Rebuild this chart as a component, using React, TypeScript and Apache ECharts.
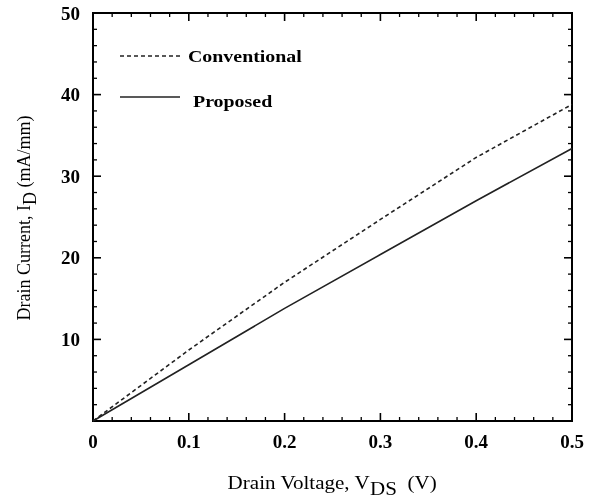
import React, { useEffect, useRef } from "react";
import * as echarts from "echarts";

const voltage = [0, 0.1, 0.2, 0.3, 0.4, 0.5];
const conventional = [0, 8.7, 17.0, 24.7, 32.3, 38.8];
const proposed = [0, 6.9, 13.8, 20.4, 27.0, 33.4];
const xTicks = [0, 0.1, 0.2, 0.3, 0.4, 0.5];
const yTicks = [10, 20, 30, 40, 50];
const legendNames = ["Conventional", "Proposed"];
const X_MAX = 0.5;
const Y_MAX = 50;
const X_MINOR = 0.02;
const Y_MINOR = 2;

const FONT = "Liberation Serif";

// tick marks: [x, y, isMajor, axis(0 = x axis, 1 = y axis)]
const tickData: number[][] = [];
for (let i = 1; i < Math.round(X_MAX / X_MINOR); i++) {
  tickData.push([+(i * X_MINOR).toFixed(3), 0, i % 5 === 0 ? 1 : 0, 0]);
}
for (let i = 1; i < Math.round(Y_MAX / Y_MINOR); i++) {
  tickData.push([0, i * Y_MINOR, i % 5 === 0 ? 1 : 0, 1]);
}

export default function App() {
  const ref = useRef<HTMLDivElement>(null);
  useEffect(() => {
    if (!ref.current) return;
    const chart = echarts.init(ref.current, undefined, { renderer: "svg" });
    const labelStyle = { fontFamily: FONT, fontWeight: "bold" as const, fontSize: 19, color: "#000" };
    chart.setOption({
      animation: false,
      grid: { left: 93, right: 31, top: 13, bottom: 78, show: true, borderColor: "#000", borderWidth: 2, backgroundColor: "transparent" },
      xAxis: {
        type: "value", min: 0, max: X_MAX, interval: 0.1,
        axisLine: { show: true, onZero: false, lineStyle: { color: "#000", width: 2 } },
        axisTick: { show: false }, splitLine: { show: false },
        axisLabel: {
          ...labelStyle, margin: 11,
          formatter: (v: number) => (xTicks.includes(Math.round(v * 10) / 10) ? (v === 0 ? "0" : v.toFixed(1)) : ""),
        },
      },
      yAxis: {
        type: "value", min: 0, max: Y_MAX, interval: 10,
        axisLine: { show: true, onZero: false, lineStyle: { color: "#000", width: 2 } },
        axisTick: { show: false }, splitLine: { show: false },
        axisLabel: {
          ...labelStyle, margin: 13,
          formatter: (v: number) => (yTicks.includes(v) ? String(v) : ""),
        },
      },
      series: [
        {
          type: "custom", silent: true, z: 5,
          encode: { x: 0, y: 1 },
          dimensions: ["x", "y", "major", "axis"],
          data: tickData,
          renderItem: (params: any, api: any) => {
            const v0 = api.value(0);
            const v1 = api.value(1);
            const major = api.value(2) === 1;
            const axis = api.value(3);
            const len = major ? 8 : 4;
            const lw = major ? 1.6 : 1.3;
            if (axis === 0) {
              const b = api.coord([v0, 0]);
              const t = api.coord([v0, Y_MAX]);
              return {
                type: "group",
                children: [
                  { type: "line", shape: { x1: b[0], y1: b[1], x2: b[0], y2: b[1] - len }, style: { stroke: "#000", lineWidth: lw } },
                  { type: "line", shape: { x1: t[0], y1: t[1], x2: t[0], y2: t[1] + len }, style: { stroke: "#000", lineWidth: lw } },
                ],
              };
            }
            const l = api.coord([0, v1]);
            const r = api.coord([X_MAX, v1]);
            return {
              type: "group",
              children: [
                { type: "line", shape: { x1: l[0], y1: l[1], x2: l[0] + len, y2: l[1] }, style: { stroke: "#000", lineWidth: lw } },
                { type: "line", shape: { x1: r[0], y1: r[1], x2: r[0] - len, y2: r[1] }, style: { stroke: "#000", lineWidth: lw } },
              ],
            };
          },
        },
        {
          name: legendNames[0], type: "line", showSymbol: false, symbol: "none",
          data: voltage.map((v, i) => [v, conventional[i]]),
          lineStyle: { color: "#222", width: 1.6, type: [4, 3] },
        },
        {
          name: legendNames[1], type: "line", showSymbol: false, symbol: "none",
          data: voltage.map((v, i) => [v, proposed[i]]),
          lineStyle: { color: "#222", width: 1.6, type: "solid" },
        },
      ],
      graphic: [
        { type: "line", shape: { x1: 120, y1: 56, x2: 180, y2: 56 }, style: { stroke: "#222", lineWidth: 1.5, lineDash: [4, 3] } },
        { type: "text", x: 188, y: 56, scaleX: 1.17, style: { text: legendNames[0], fontFamily: FONT, fontWeight: "bold", fontSize: 17, fill: "#000", textVerticalAlign: "middle" } },
        { type: "line", shape: { x1: 120, y1: 97, x2: 180, y2: 97 }, style: { stroke: "#222", lineWidth: 1.5 } },
        { type: "text", x: 193, y: 101, scaleX: 1.17, style: { text: legendNames[1], fontFamily: FONT, fontWeight: "bold", fontSize: 17, fill: "#000", textVerticalAlign: "middle" } },
        {
          type: "text", x: 332, y: 474, scaleX: 1.17,
          style: {
            text: "{a|Drain Voltage, V}{b|DS}{a|  (V)}",
            textAlign: "center", textVerticalAlign: "top",
            rich: {
              a: { fontFamily: FONT, fontSize: 18, fill: "#000", verticalAlign: "top", lineHeight: 20 },
              b: { fontFamily: FONT, fontSize: 18, fill: "#000", verticalAlign: "top", lineHeight: 20, padding: [6, 0, 0, 0] },
            },
          },
        },
        {
          type: "text", x: 25, y: 218, rotation: Math.PI / 2,
          style: {
            text: "{a|Drain Current, I}{b|D}{a| (mA/mm)}",
            textAlign: "center", textVerticalAlign: "middle",
            rich: {
              a: { fontFamily: FONT, fontSize: 18, fill: "#000", verticalAlign: "top", lineHeight: 20 },
              b: { fontFamily: FONT, fontSize: 18, fill: "#000", verticalAlign: "top", lineHeight: 20, padding: [6, 0, 0, 0] },
            },
          },
        },
      ],
    });
    return () => chart.dispose();
  }, []);
  return <div ref={ref} style={{ position: "fixed", left: 0, top: 0, width: 603, height: 499 }} />;
}
